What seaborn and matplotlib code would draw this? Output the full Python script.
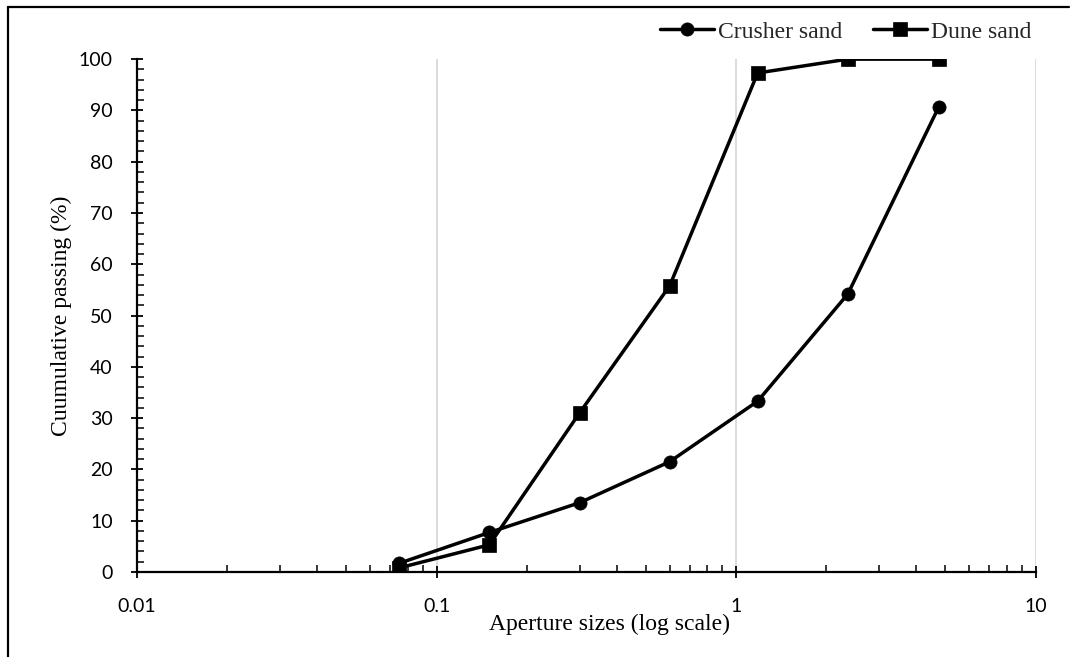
import numpy as np
import pandas as pd
import matplotlib.pyplot as plt
from matplotlib.lines import Line2D
from matplotlib.ticker import LogLocator, MultipleLocator, FuncFormatter
import seaborn as sns

SIEVE_SIZES = [0.075, 0.15, 0.3, 0.6, 1.18, 2.36, 4.75]
CRUSHER_SAND = [1.7, 7.7, 13.5, 21.5, 33.3, 54.2, 90.7]
DUNE_SAND = [0.8, 5.3, 31.0, 55.8, 97.3, 100.0, 100.0]
X_TICKS = [0.01, 0.1, 1, 10]
X_TICK_LABELS = ["0.01", "0.1", "1", "10"]

sns.set_theme(style="white")
plt.rcParams["font.family"] = ["Liberation Serif", "DejaVu Sans"]

df = pd.DataFrame({
    "size": SIEVE_SIZES * 2,
    "passing": CRUSHER_SAND + DUNE_SAND,
    "sample": ["Crusher sand"] * len(SIEVE_SIZES) + ["Dune sand"] * len(SIEVE_SIZES),
})

fig = plt.figure(figsize=(10.71, 6.57), dpi=100)
ax = fig.add_axes([0.128, 0.1294, 0.839, 0.7806])

sns.lineplot(data=df[df["sample"] == "Crusher sand"], x="size", y="passing", ax=ax,
             color="black", linewidth=2.5, marker="o", markersize=9.5,
             markeredgecolor="black", markeredgewidth=0.5, label="Crusher sand")
sns.lineplot(data=df[df["sample"] == "Dune sand"], x="size", y="passing", ax=ax,
             color="black", linewidth=2.5, marker="s", markersize=10.5,
             markeredgecolor="black", markeredgewidth=0.5, label="Dune sand")

ax.set_xscale("log")
ax.set_xlim(0.01, 10)
ax.set_ylim(0, 100)
ax.set_xticks(X_TICKS)
ax.set_xticklabels(X_TICK_LABELS)
ax.xaxis.set_minor_locator(LogLocator(base=10, subs=np.arange(2, 10)))
ax.xaxis.set_minor_formatter(FuncFormatter(lambda v, p: ""))
ax.yaxis.set_major_locator(MultipleLocator(10))
ax.yaxis.set_minor_locator(MultipleLocator(2))

for lbl in ax.get_xticklabels() + ax.get_yticklabels():
    lbl.set_fontfamily("Lato")
    lbl.set_fontsize(14)
    lbl.set_color("black")

ax.tick_params(which="major", direction="inout", length=9, width=1.3, color="black")
ax.tick_params(which="minor", direction="in", length=5, width=1.1, color="black")
ax.tick_params(axis="x", which="major", pad=14)
ax.tick_params(axis="y", which="major", pad=13)
ax.tick_params(which="both", bottom=True, left=True)

ax.grid(axis="x", which="major", color="#d9d9d9", linewidth=1.3)
ax.grid(axis="y", visible=False)
for side in ["top", "right"]:
    ax.spines[side].set_visible(False)
for side in ["left", "bottom"]:
    ax.spines[side].set_color("black")
    ax.spines[side].set_linewidth(1.6)

ax.set_xlabel("Aperture sizes (log scale)", fontsize=17, color="black")
ax.xaxis.set_label_coords(0.526, -0.082)
ax.set_ylabel("Cuumulative passing (%)", fontsize=17, color="black", labelpad=5)

ax.legend(loc="center right", bbox_to_anchor=(0.995, 1.053), ncol=2, frameon=False,
          fontsize=17, handlelength=2.3, handletextpad=0.15, columnspacing=1.3,
          borderaxespad=0, borderpad=0)

# outer frame (left and top edges)
fig.add_artist(Line2D([0.0075, 0.0075], [0.0, 0.9893], color="black", linewidth=1.6))
fig.add_artist(Line2D([0.0075, 0.998], [0.9893, 0.9893], color="black", linewidth=1.6))

fig.savefig("out.png", dpi=100)
